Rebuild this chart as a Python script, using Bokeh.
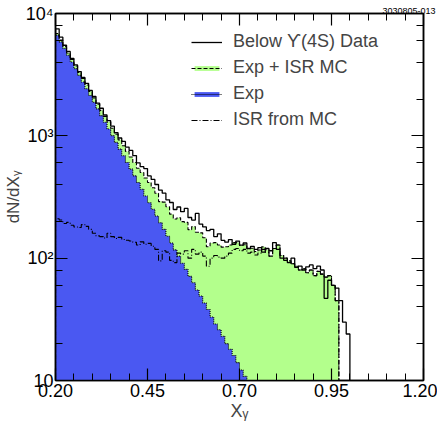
import json
from bokeh.plotting import figure
from bokeh.models import (Range1d, LinearAxis, LogAxis, FixedTicker, LogTicker,
                          PrintfTickFormatter, CustomJSTickFormatter, Legend,
                          LegendItem, Title)
from bokeh.embed import file_html
from bokeh.resources import INLINE

# ---- data (histograms, 0.01 wide bins starting at X = 0.20) ----
bin_start = 0.20
bin_width = 0.01

# Exp component (blue)
exp_vals = [6650, 5862, 5168, 4555, 4016, 3540, 3120, 2751, 2425, 2138,
            1884, 1661, 1464, 1291, 1138, 1003, 884, 779, 687, 606,
            534, 471, 415, 366, 322, 284, 251, 221, 195, 172,
            151, 133, 117, 104, 91, 81, 71, 63, 55, 49,
            43, 38, 33, 29, 26, 23, 20, 18, 16, 14,
            12.2, 10.8, 9.5, 8.4, 7.4, 6.5, 5.7, 5.1]

# ISR from MC (dash-dot)
isr_vals = [210, 205, 192, 196, 186, 180, 178, 188, 182, 172,
            160, 152, 150, 146, 160, 150, 145, 148, 142, 140,
            138, 135, 128, 136, 130, 132, 125, 118, 95, 115,
            112, 96, 92, 110, 108, 115, 100, 118, 108, 112,
            104, 86, 100, 105, 102, 100, 104, 110, 118, 120,
            115, 118, 110, 112, 106, 110, 118, 112, 104, 120,
            128, 105, 100, 95, 90, 86, 80, 82, 76, 80,
            72, 78, 74, 70, 72, 60, 45]

# Below Upsilon(4S) data (solid)
data_vals = [7500, 6400, 5500, 4900, 4300, 3800, 3350, 3000, 2680, 2350,
             2100, 1850, 1680, 1480, 1330, 1200, 1060, 960, 900, 810,
             760, 690, 600, 560, 540, 470, 440, 400, 360, 340,
             300, 285, 250, 262, 240, 255, 215, 205, 232, 190,
             180, 168, 172, 150, 158, 140, 135, 142, 130, 138,
             128, 133, 120, 125, 118, 122, 112, 120, 115, 134,
             118, 100, 96, 92, 100, 84, 86, 80, 85, 88,
             82, 86, 80, 47, 66, 60, 57, 45, 30, 24]

x_major = [0.20, 0.45, 0.70, 0.95, 1.20]
x_minor = [round(0.20 + 0.05 * i, 2) for i in range(21)]
y_tick_labels = {"10": "10", "100": "10\u00b2", "1000": "10\u00b3", "10000": "10\u2074"}

FLOOR = 1.0  # below the visible range, so fills reach the axis


def outline(vals):
    e = [round(bin_start + bin_width * i, 3) for i in range(len(vals) + 1)]
    xs, ys = [e[0]], [FLOOR]
    for i, v in enumerate(vals):
        xs += [e[i], e[i + 1]]
        ys += [v, v]
    xs.append(e[-1])
    ys.append(FLOOR)
    return xs, ys


sum_vals = [isr_vals[i] + (exp_vals[i] if i < len(exp_vals) else 0)
            for i in range(len(isr_vals))]

FONT = "Liberation Sans"
BLUE = "#4a58f2"
GREEN = "#b3ff8c"

title = Title(text="3030805-013", align="right", offset=-12, standoff=0,
              text_font=FONT, text_font_size="9px", text_font_style="normal",
              text_color="black")

p = figure(width=437, height=427, x_range=Range1d(0.2, 1.2),
           y_range=Range1d(10, 10000), y_axis_type="log",
           output_backend="svg", toolbar_location=None, title=title,
           min_border_left=54, min_border_right=14,
           min_border_top=13, min_border_bottom=47)
p.grid.visible = False
p.background_fill_color = "white"
p.border_fill_color = "white"
p.outline_line_color = "black"
p.outline_line_width = 1.5

sx, sy = outline(sum_vals)
ex, ey = outline(exp_vals)
ix, iy = outline(isr_vals)
dx, dy = outline(data_vals)

g_fill = p.varea(x=sx, y1=FLOOR, y2=sy, fill_color=GREEN)
b_fill = p.varea(x=ex, y1=FLOOR, y2=ey, fill_color=BLUE)
b_line = p.line(ex, ey, line_color="black", line_width=1.1, line_dash="1 1")
g_line = p.line(sx, sy, line_color="black", line_width=1.1, line_dash="4 2")
i_line = p.line(ix, iy, line_color="black", line_width=1.1, line_dash="6 2 1 2")
d_line = p.line(dx, dy, line_color="black", line_width=1.3)

# ---- axes ----
def style_axis(ax):
    ax.axis_line_width = 1.5
    ax.axis_line_color = "black"
    ax.major_tick_in = 12
    ax.major_tick_out = 0
    ax.minor_tick_in = 7
    ax.minor_tick_out = 0
    ax.major_tick_line_width = 1.2
    ax.minor_tick_line_width = 1.0
    ax.major_label_text_font = FONT
    ax.major_label_text_font_size = "18px"
    ax.major_label_text_color = "black"


xax = p.xaxis[0]
xax.ticker = FixedTicker(ticks=x_major, minor_ticks=x_minor)
xax.formatter = PrintfTickFormatter(format="%.2f")
style_axis(xax)
xax.major_label_standoff = 3
xax.axis_label = "X\u1d67"
xax.axis_label_text_font = FONT
xax.axis_label_text_font_style = "normal"
xax.axis_label_text_font_size = "18px"
xax.axis_label_standoff = 1

yax = p.yaxis[0]
yax.ticker = LogTicker()
yax.formatter = CustomJSTickFormatter(
    code="const m = " + json.dumps(y_tick_labels) + "; return m[String(Math.round(tick))] ?? '';")
style_axis(yax)
yax.major_label_standoff = 2
yax.axis_label = "dN/dX\u1d67"
yax.axis_label_text_font = FONT
yax.axis_label_text_font_style = "normal"
yax.axis_label_text_font_size = "17px"
yax.axis_label_standoff = 0

blank = "return '';"
top = LinearAxis(ticker=FixedTicker(ticks=x_major, minor_ticks=x_minor),
                 formatter=CustomJSTickFormatter(code=blank))
style_axis(top)
top.major_label_text_font_size = "0px"
top.major_label_standoff = 0
p.add_layout(top, "above")

right = LogAxis(ticker=LogTicker(), formatter=CustomJSTickFormatter(code=blank))
style_axis(right)
right.major_label_text_font_size = "0px"
right.major_label_standoff = 0
p.add_layout(right, "right")

legend = Legend(items=[
    LegendItem(label="Below \u03d2(4S) Data", renderers=[d_line]),
    LegendItem(label="Exp + ISR MC", renderers=[g_fill, g_line]),
    LegendItem(label="Exp", renderers=[b_fill, b_line]),
    LegendItem(label="ISR from MC", renderers=[i_line]),
], location=(136, 250), glyph_width=31, glyph_height=6, label_height=21,
    spacing=5, padding=0, margin=0, label_standoff=11,
    border_line_color=None, background_fill_alpha=0,
    label_text_font=FONT, label_text_font_size="18px")
p.add_layout(legend)

open("out.html", "w").write(file_html(p, INLINE))
